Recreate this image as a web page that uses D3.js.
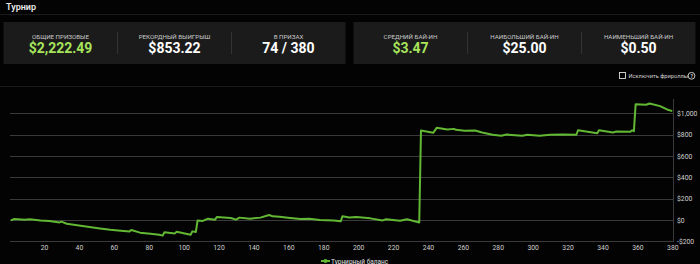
<!DOCTYPE html>
<html><head><meta charset="utf-8">
<script src="https://cdn.jsdelivr.net/npm/d3@7"></script>
<style>
html,body{margin:0;padding:0;background:#030303;overflow:hidden;}
svg{display:block;font-family:Roboto,"Open Sans",sans-serif;}
</style></head><body>
<svg id="c" width="700" height="264"></svg>
<script>
// ---- data ----
const statLabels = ["ОБЩИЕ ПРИЗОВЫЕ","РЕКОРДНЫЙ ВЫИГРЫШ","В ПРИЗАХ","СРЕДНИЙ БАЙ-ИН","НАИБОЛЬШИЙ БАЙ-ИН","НАИМЕНЬШИЙ БАЙ-ИН"];
const statValues = ["$2,222.49","$853.22","74 / 380","$3.47","$25.00","$0.50"];
const statHighlight = [true,false,false,true,false,false];
const games = [1,3,9,12,18,23,29,30,33,41,46,52,58,64,69,70,75,81,86,88,89,95,96,104,105,107,108,111,114,118,119,127,130,132,138,144,149,151,155,161,167,172,178,186,190,191,195,199,207,214,216,224,228,235,236,243,245,251,255,256,261,267,271,277,282,285,294,297,304,310,317,325,326,337,338,346,348,356,357,358,359,365,367,373,377,380];
const balance = [-4,9,3,6,-4,-9,-23,-16,-35,-54,-66,-79,-91,-100,-107,-94,-119,-129,-138,-147,-116,-126,-110,-138,-107,-113,-4,-9,12,3,28,19,3,22,12,22,47,34,31,19,9,12,0,-4,-13,34,24,28,15,-4,6,-7,6,-23,838,817,864,848,854,845,836,838,820,798,789,801,789,798,789,798,801,798,841,813,841,820,829,826,841,832,1086,1080,1092,1067,1036,1020];
const xTicks = d3.range(20,381,20);
const yTicks = [-200,0,200,400,600,800,1000];
const seriesName = "Турнирный баланс";
const titleText = "Турнир";
const filterText = "Исключить фрироллы";

const svg = d3.select("#c");
// header
svg.append("text").attr("x",6).attr("y",10).attr("fill","#e8e8e8").attr("font-size",9).attr("font-weight",600).text(titleText);
svg.append("line").attr("x1",0).attr("x2",700).attr("y1",14.5).attr("y2",14.5).attr("stroke","#1a1a1a");
svg.append("line").attr("x1",0).attr("x2",700).attr("y1",86.5).attr("y2",86.5).attr("stroke","#1a1a1a");

// cards
const cards = [{x:3.5,w:342},{x:353.5,w:342}];
cards.forEach((c,ci)=>{
  svg.append("rect").attr("x",c.x).attr("y",22).attr("width",c.w).attr("height",42).attr("fill","#1b1b1b");
  const cell = c.w/3;
  for(let k=1;k<3;k++){
    svg.append("line").attr("x1",c.x+cell*k).attr("x2",c.x+cell*k).attr("y1",32).attr("y2",54).attr("stroke","#333");
  }
  for(let k=0;k<3;k++){
    const idx = ci*3+k, cx = c.x+cell*k+cell/2;
    svg.append("text").attr("x",cx).attr("y",38.5).attr("text-anchor","middle").attr("fill","#c8c8c8").attr("font-size",6.2).text(statLabels[idx]);
    svg.append("text").attr("x",cx).attr("y",52.5).attr("text-anchor","middle").attr("fill",statHighlight[idx]?"#a8e35c":"#ffffff").attr("font-size",14).attr("font-weight",700).text(statValues[idx]);
  }
});

// filter checkbox
svg.append("rect").attr("x",619.5).attr("y",72.5).attr("width",6).attr("height",6).attr("fill","none").attr("stroke","#ddd").attr("stroke-width",0.9);
svg.append("text").attr("x",628.5).attr("y",78).attr("fill","#d0d0d0").attr("font-size",5.7).text(filterText);
svg.append("circle").attr("cx",691.5).attr("cy",75.8).attr("r",3.4).attr("fill","none").attr("stroke","#ddd").attr("stroke-width",0.9);
svg.append("text").attr("x",691.8).attr("y",77.7).attr("text-anchor","middle").attr("fill","#ddd").attr("font-size",5).attr("font-weight",700).text("?");

// chart scales
const x = d3.scaleLinear().domain([0,380]).range([9.1,672.3]);
const y = d3.scaleLinear().domain([-200,1000]).range([241.3,113.3]);

// grid
svg.append("g").selectAll("line").data(yTicks).join("line")
  .attr("x1",10).attr("x2",673).attr("y1",d=>Math.round(y(d))+0.5).attr("y2",d=>Math.round(y(d))+0.5)
  .attr("stroke","#3a3a3a").attr("stroke-width",1);
// right axis line
svg.append("line").attr("x1",673.5).attr("x2",673.5).attr("y1",99).attr("y2",242).attr("stroke","#3a3a3a");

// y axis labels
const fmt = d=> (d<0?"-$":"$")+d3.format(",")(Math.abs(d));
const yAxis = d3.axisRight(y).tickValues(yTicks).tickFormat(fmt).tickSize(0).tickPadding(4);
const gy = svg.append("g").attr("transform","translate(673,0)").call(yAxis);
gy.select(".domain").remove();
gy.selectAll("text").attr("fill","#cfcfcf").attr("font-size",6.8).attr("font-family","Roboto,sans-serif");

// x axis labels
const xAxis = d3.axisBottom(x).tickValues(xTicks).tickSize(0).tickPadding(0);
const gx = svg.append("g").attr("transform","translate(0,245)").call(xAxis);
gx.select(".domain").remove();
gx.selectAll("text").attr("fill","#cfcfcf").attr("font-size",6.8).attr("font-family","Roboto,sans-serif");

// line
const pts = games.map((g,i)=>[g,balance[i]]);
const line = d3.line().x(d=>x(d[0])).y(d=>y(d[1]));
svg.append("path").datum(pts).attr("d",line).attr("fill","none").attr("stroke","#62b834").attr("stroke-width",2).attr("stroke-linejoin","round");

// legend
svg.append("line").attr("x1",321).attr("x2",330).attr("y1",261).attr("y2",261).attr("stroke","#62b834").attr("stroke-width",2);
svg.append("circle").attr("cx",325.5).attr("cy",261).attr("r",2).attr("fill","#62b834");
svg.append("text").attr("x",331).attr("y",263.5).attr("fill","#e0e0e0").attr("font-size",6.5).text(seriesName);
</script></body></html>
